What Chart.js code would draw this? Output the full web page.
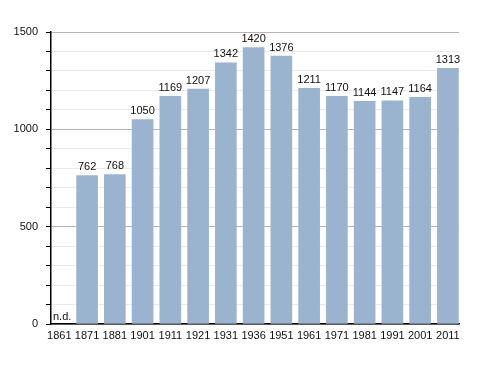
<!DOCTYPE html>
<html>
<head>
<meta charset="utf-8">
<script src="https://cdn.jsdelivr.net/npm/chart.js@4"></script>
<style>
  html, body { margin: 0; padding: 0; background: #fff; }
  #wrap { width: 488px; height: 373px; }
</style>
</head>
<body>
<div id="wrap"><canvas id="myChart" width="488" height="373"></canvas></div>
<script>
// anni del censimento e abitanti
var anni = ["1861","1871","1881","1901","1911","1921","1931","1936","1951","1961","1971","1981","1991","2001","2011"];
var abitanti = [null, 762, 768, 1050, 1169, 1207, 1342, 1420, 1376, 1211, 1170, 1144, 1147, 1164, 1313];
var yTicks = [0, 500, 1000, 1500];

var fontName = "'Liberation Sans', Arial, sans-serif";

var punti = [];
for (var i = 0; i < anni.length; i++) {
  punti.push({ x: i, y: abitanti[i] });
}

// etichette sopra le barre + "n.d."
var etichette = {
  id: 'etichette',
  afterDatasetsDraw: function(chart) {
    var ctx = chart.ctx;
    var xScale = chart.scales.x;
    var yScale = chart.scales.y;
    ctx.save();
    ctx.font = '11px ' + fontName;
    ctx.fillStyle = '#111';
    ctx.textAlign = 'center';
    ctx.textBaseline = 'bottom';
    for (var i = 0; i < abitanti.length; i++) {
      var v = abitanti[i];
      var x = xScale.getPixelForValue(i);
      if (v === null) {
        ctx.textAlign = 'left';
        ctx.fillText('n.d.', chart.chartArea.left + 2, yScale.getPixelForValue(0) - 2);
        ctx.textAlign = 'center';
      } else {
        ctx.fillText(String(v), x, yScale.getPixelForValue(v) - 3);
      }
    }
    ctx.restore();
  }
};

new Chart(document.getElementById("myChart"), {
  type: 'bar',
  data: {
    datasets: [{
      data: punti,
      backgroundColor: '#9ab3cf',
      borderWidth: 0,
      barThickness: 21
    }]
  },
  options: {
    responsive: false,
    animation: false,
    layout: { padding: { top: 32, right: 29, left: 0, bottom: 0 } },
    plugins: {
      legend: { display: false },
      tooltip: { enabled: false }
    },
    scales: {
      x: {
        type: 'linear',
        offset: false,
        min: -0.3,
        max: 14.4,
        grid: { display: false, drawTicks: false },
        border: { color: '#000', width: 1.5 },
        afterBuildTicks: function(s) {
          s.ticks = anni.map(function(a, i) { return { value: i }; });
        },
        ticks: {
          color: '#111',
          font: { family: fontName, size: 11 },
          padding: 5,
          maxRotation: 0,
          autoSkip: false,
          callback: function(v) { return anni[v]; }
        },
        afterFit: function(s) { s.height = 49; }
      },
      y: {
        min: 0,
        max: 1500,
        border: { color: '#000', width: 1.5 },
        grid: {
          color: function(c) { return (c.tick && c.tick.value % 500 === 0) ? '#b4b4b4' : '#e9e9e9'; },
          tickColor: '#000',
          tickLength: 5
        },
        ticks: {
          stepSize: 100,
          color: '#111',
          font: { family: fontName, size: 11 },
          padding: 8,
          callback: function(v) { return yTicks.indexOf(v) >= 0 ? String(v) : ''; }
        },
        afterFit: function(s) { s.width = 51; }
      }
    }
  },
  plugins: [etichette]
});
</script>
</body>
</html>
